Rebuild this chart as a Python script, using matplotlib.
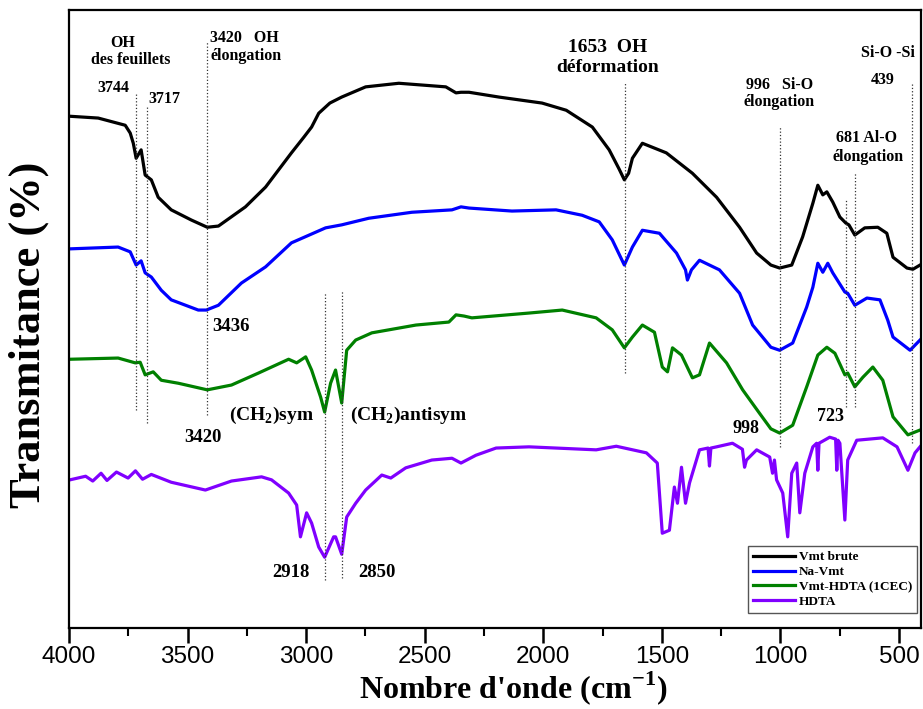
import matplotlib
matplotlib.use("Agg")
import matplotlib.pyplot as plt

# spectres (nombre d'onde, transmittance en unités arbitraires)
wn_brute = [3996, 3877, 3763, 3742, 3729, 3717, 3696, 3679, 3653, 3624, 3569, 3484, 3417, 3370,
            3256, 3171, 3062, 3010, 2977, 2947, 2900, 2850, 2749, 2609, 2411, 2368, 2347, 2313, 2187, 2005,
            1903, 1793, 1722, 1680, 1658, 1640, 1624, 1582, 1481, 1371, 1269, 1172, 1100, 1040, 1003, 952, 906,
            863, 842, 821, 804, 779, 749, 724, 711, 686, 644, 589, 551, 525, 466, 441, 411]
t_brute = [85.3, 85.0, 83.8, 82.5, 80.8, 78.3, 79.7, 75.5, 74.7, 71.8, 69.7, 68.0, 66.8, 67.0,
           70.2, 73.5, 79.2, 81.8, 83.5, 85.8, 87.5, 88.5, 90.2, 90.8, 90.2, 89.2, 89.3, 89.3, 88.5, 87.5,
           86.3, 83.5, 79.7, 76.5, 74.7, 75.8, 78.3, 80.8, 79.2, 75.8, 71.8, 66.8, 62.5, 60.5, 60.0, 60.5, 65.2,
           70.8, 73.8, 72.2, 72.7, 71.0, 68.5, 67.5, 67.2, 65.5, 66.7, 66.8, 65.8, 61.8, 60.0, 59.8, 60.5]

wn_na = [3996, 3793, 3742, 3717, 3696, 3679, 3653, 3611, 3569, 3455, 3421, 3370, 3273, 3171,
         3062, 2918, 2850, 2736, 2554, 2385, 2347, 2313, 2132, 1946, 1836, 1764, 1709, 1658,
         1624, 1582, 1510, 1438, 1400, 1392, 1375, 1341, 1257, 1172, 1117, 1040, 1003, 948, 889,
         863, 842, 821, 800, 779, 728, 716, 686, 635, 580, 547, 525, 453, 411]
t_na = [63.2, 63.5, 62.7, 60.5, 61.2, 59.2, 58.5, 56.3, 54.7, 53.0, 53.0, 53.8, 57.5, 60.2,
        64.2, 66.7, 67.2, 68.3, 69.3, 69.7, 70.2, 70.0, 69.5, 69.7, 68.8, 67.7, 64.7, 60.5,
        63.5, 66.3, 65.8, 62.5, 59.7, 58.0, 59.7, 61.3, 59.7, 55.8, 50.5, 46.8, 46.3, 47.5, 53.5,
        56.8, 60.8, 59.3, 60.8, 59.2, 56.0, 55.8, 53.8, 55.0, 54.7, 51.3, 48.5, 46.3, 48.0]

wn_hdta_vmt = [3996, 3793, 3721, 3700, 3679, 3645, 3611, 3539, 3417, 3315, 3201, 3074, 3040, 3002,
               2977, 2956, 2939, 2922, 2897, 2876, 2850, 2829, 2791, 2723, 2537, 2398, 2368, 2334,
               2301, 2060, 1920, 1777, 1709, 1658, 1624, 1582, 1531, 1498, 1476, 1455, 1417, 1371,
               1341, 1299, 1227, 1159, 1088, 1040, 1003, 948, 889, 842, 804, 770, 728, 716, 686, 652,
               610, 568, 525, 462, 411]
t_hdta_vmt = [44.8, 45.0, 44.2, 44.3, 42.2, 42.7, 41.3, 40.8, 39.7, 40.5, 42.5, 44.8, 44.2, 45.2,
              43.0, 40.5, 38.5, 36.0, 40.8, 43.0, 37.5, 46.3, 48.0, 49.2, 50.5, 51.0, 52.2, 52.0,
              51.7, 52.5, 53.0, 51.7, 49.7, 46.7, 48.5, 50.5, 49.3, 43.5, 42.7, 46.7, 45.5, 41.7,
              42.2, 47.5, 44.2, 39.7, 35.8, 33.2, 32.5, 33.8, 40.2, 45.5, 46.8, 45.8, 42.2, 42.5, 40.2, 41.8,
              43.5, 41.3, 35.2, 32.2, 33.0]

wn_hdta = [3996, 3930, 3900, 3865, 3840, 3800, 3751, 3720, 3690, 3653, 3569, 3425, 3315, 3188,
           3146, 3074, 3040, 3024, 2998, 2977,
           2947, 2922, 2884, 2876, 2850, 2829, 2791, 2749, 2681, 2643, 2580, 2470, 2385, 2347,
           2284, 2199, 2060, 1777, 1692, 1565, 1519, 1498, 1468, 1447, 1434, 1417, 1400, 1383,
           1341, 1305, 1299, 1293, 1269, 1202, 1160, 1151, 1143, 1100, 1045, 1033, 1025, 1016,
           990, 969, 952, 931, 918, 897, 863, 847, 842, 837, 792, 767, 762, 757, 749, 728, 716,
           678, 568, 508, 462, 432, 411]
t_hdta = [24.7, 25.3, 24.5, 25.8, 24.6, 26.0, 25.0, 26.2, 24.8, 25.6, 24.3, 23.0, 24.5, 25.2,
          24.7, 22.5, 20.5, 15.2, 19.2, 17.5,
          13.5, 11.8, 15.2, 15.2, 12.3, 18.5, 20.8, 23.0, 25.5, 25.0, 26.7, 28.0, 28.3, 27.5,
          28.8, 30.0, 30.2, 29.7, 30.3, 29.2, 27.5, 15.8, 16.3, 23.5, 20.8, 26.8, 20.8, 24.2,
          29.7, 30.0, 27.0, 30.0, 30.2, 30.8, 29.8, 26.8, 28.0, 29.7, 28.5, 25.8, 28.0, 24.7,
          22.5, 15.2, 25.8, 27.5, 19.2, 25.8, 30.2, 30.8, 26.3, 30.8, 31.8, 31.5, 26.3, 31.3, 30.8, 18.0, 28.0,
          31.3, 31.7, 30.2, 26.3, 29.2, 30.2]

series = [
    (wn_brute, t_brute, "Vmt brute", "black"),
    (wn_na, t_na, "Na-Vmt", "#0000ff"),
    (wn_hdta_vmt, t_hdta_vmt, "Vmt-HDTA (1CEC)", "#008000"),
    (wn_hdta, t_hdta, "HDTA", "#8000ff"),
]

# repères pointillés : position, haut, bas
mark_wn = [3718, 3673, 3417, 2922, 2850, 1654, 1003, 724, 686, 446]
mark_top = [89.2, 86.8, 97.7, 56.0, 56.2, 91.0, 83.5, 71.3, 75.8, 91.0]
mark_bot = [36.3, 34.2, 35.5, 8.0, 8.3, 42.5, 30.2, 36.8, 36.8, 30.8]

plt.rcParams['mathtext.fontset'] = 'custom'
plt.rcParams['mathtext.rm'] = 'Liberation Serif:bold'
plt.rcParams['mathtext.bf'] = 'Liberation Serif:bold'

fig = plt.figure(figsize=(9.23, 7.09), dpi=100)
ax = fig.add_axes([0.0748, 0.1142, 0.9230, 0.8716])

for wn, t, lab, col in series:
    ax.plot(wn, t, color=col, lw=2.3, label=lab)

for w, y1, y0 in zip(mark_wn, mark_top, mark_bot):
    ax.plot([w, w], [y0, y1], ls=':', color='#333333', lw=0.9)

serif = dict(family='Liberation Serif', weight='bold')
labels = [
    (3772, 97.5, "OH", 'center', 11.5),
    (3742, 94.7, "des feuillets", 'center', 11.5),
    (3814, 90.0, "3744", 'center', 11.5),
    (3598, 88.2, "3717", 'center', 11.5),
    (3404, 98.3, "3420   OH", 'left', 11.5),
    (3404, 95.3, "élongation", 'left', 11.5),
    (1730, 96.7, "1653  OH", 'center', 14),
    (1730, 93.5, "déformation", 'center', 14),
    (1003, 90.5, "996   Si-O", 'center', 11.5),
    (1007, 87.7, "élongation", 'center', 11.5),
    (546, 95.8, "Si-O -Si", 'center', 11.5),
    (568, 91.3, "439", 'center', 11.5),
    (635, 81.7, "681 Al-O", 'center', 11.5),
    (631, 78.5, "élongation", 'center', 11.5),
    (3319, 50.2, "3436", 'center', 13.5),
    (3434, 31.8, "3420", 'center', 13.5),
    (3146, 35.5, r"(CH$_2$)sym", 'center', 14),
    (2567, 35.5, r"(CH$_2$)antisym", 'center', 14),
    (3066, 9.3, "2918", 'center', 13.5),
    (2702, 9.3, "2850", 'center', 13.5),
    (1147, 33.3, "998", 'center', 13),
    (787, 35.3, "723", 'center', 13),
]
for x, y, s, ha, fs in labels:
    ax.text(x, y, s, ha=ha, va='center', fontsize=fs, **serif)

ax.set_xlim(4000, 407)
ax.set_ylim(0, 103)
ax.set_xticks([4000, 3500, 3000, 2500, 2000, 1500, 1000, 500])
ax.set_xticks(range(3750, 400, -500), minor=True)
ax.set_yticks([])
ax.tick_params(axis='x', which='major', direction='out', length=11, width=1.8,
               labelsize=17.5, pad=2)
ax.tick_params(axis='x', which='minor', direction='out', length=6, width=1.5)
for sp in ax.spines.values():
    sp.set_linewidth(1.6)
for lbl in ax.get_xticklabels():
    lbl.set_family('Liberation Sans')

fig.text(0.556, 0.003, r"Nombre d'onde (cm$^{-1}$)", ha='center', va='bottom',
         fontsize=23, **serif)
ax.set_ylabel("Transmitance (%)", fontsize=32, **serif)
ax.yaxis.set_label_coords(-0.024, 0.474)

leg = ax.legend(loc='lower right', bbox_to_anchor=(0.995, 0.025), borderaxespad=0,
                fancybox=False, edgecolor='#555555', framealpha=1,
                prop=dict(family='Liberation Serif', weight='bold', size=9.5),
                handlelength=3.2, labelspacing=0.2, borderpad=0.35, handletextpad=0.3)
leg.get_frame().set_linewidth(1.0)

fig.savefig("out.png", dpi=100)
